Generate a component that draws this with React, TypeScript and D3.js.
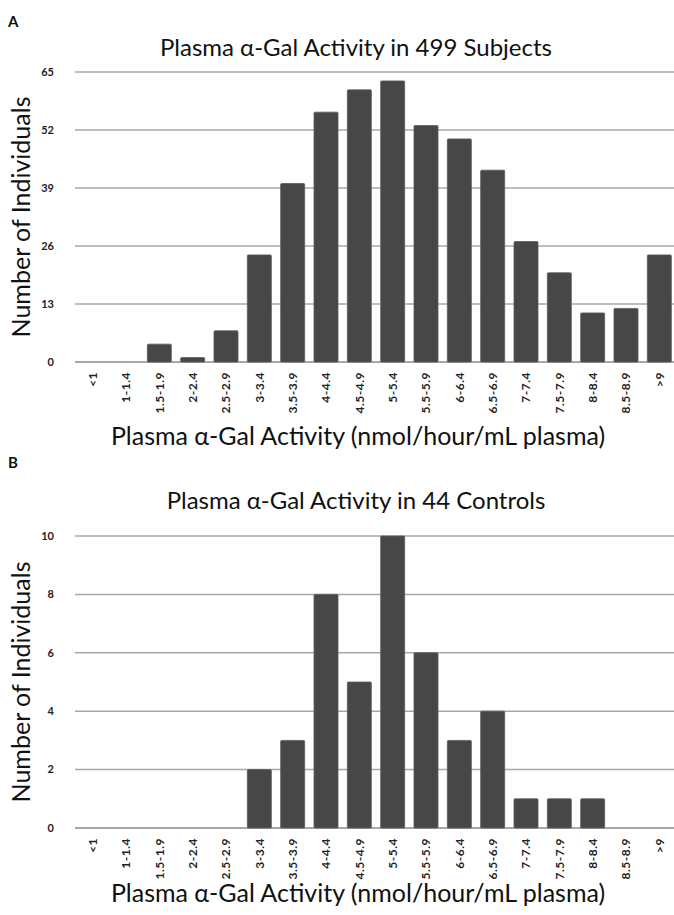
import React from "react";
import * as d3 from "d3";

const categories = ["<1", "1-1.4", "1.5-1.9", "2-2.4", "2.5-2.9", "3-3.4", "3.5-3.9", "4-4.4", "4.5-4.9", "5-5.4", "5.5-5.9", "6-6.4", "6.5-6.9", "7-7.4", "7.5-7.9", "8-8.4", "8.5-8.9", ">9"];
const subjects = [0, 0, 4, 1, 7, 24, 40, 56, 61, 63, 53, 50, 43, 27, 20, 11, 12, 24];
const controls = [0, 0, 0, 0, 0, 2, 3, 8, 5, 10, 6, 3, 4, 1, 1, 1, 0, 0];
const subjectTicks = [0, 13, 26, 39, 52, 65];
const controlTicks = [0, 2, 4, 6, 8, 10];

const FONT = "Lato, 'Open Sans', sans-serif";
const W = 674;
const H = 915;

type PanelProps = {
  letter: string;
  letterY: number;
  title: string;
  titleY: number;
  values: number[];
  ticks: number[];
  yTop: number;
  yBottom: number;
  xTitleY: number;
};

function Panel({ letter, letterY, title, titleY, values, ticks, yTop, yBottom, xTitleY }: PanelProps) {
  const x = d3.scaleBand<string>().domain(categories).range([76, 676]).paddingInner(0.28).paddingOuter(0.14);
  const y = d3.scaleLinear().domain([0, d3.max(ticks) as number]).range([yBottom, yTop]);
  const bw = x.bandwidth();
  return (
    <g>
      <text x={8} y={letterY} fontFamily={FONT} fontWeight={700} fontSize={15} fill="#111">{letter}</text>
      <text x={356} y={titleY} fontFamily={FONT} fontSize={24} fill="#111" textAnchor="middle">{title}</text>
      {ticks.map((t) => (
        <g key={t}>
          <line x1={75} x2={W} y1={y(t)} y2={y(t)} stroke={t === 0 ? "#8a8a8a" : "#a8a8a8"} strokeWidth={1.5} />
          <text x={54} y={y(t)} dy="0.35em" textAnchor="end" fontFamily={FONT} fontWeight={700} fontSize={11} fill="#222">{t}</text>
        </g>
      ))}
      {values.map((v, i) => (
        v > 0 ? (
          <rect key={categories[i]} x={x(categories[i])} y={y(v)} width={bw} height={y(0) - y(v)} fill="#474747" stroke="#5a5a5a" strokeWidth={0.8} rx={1} />
        ) : null
      ))}
      {categories.map((c) => {
        const cx = (x(c) as number) + bw / 2;
        const ty = yBottom + 10;
        return (
          <text key={c} transform={`translate(${cx},${ty}) rotate(-90)`} textAnchor="end" dy="0.35em" fontFamily={FONT} fontWeight={700} fontSize={12} letterSpacing={0.5} fill="#222">{c}</text>
        );
      })}
      <text transform={`translate(30,${(yTop + yBottom) / 2}) rotate(-90)`} textAnchor="middle" fontFamily={FONT} fontSize={25} fill="#111">Number of Individuals</text>
      <text x={358} y={xTitleY} textAnchor="middle" fontFamily={FONT} fontSize={25} fill="#111">Plasma α-Gal Activity (nmol/hour/mL plasma)</text>
    </g>
  );
}

export default function App() {
  return (
    <svg width={W} height={H} viewBox={`0 0 ${W} ${H}`} style={{ position: "absolute", left: 0, top: 0, background: "#fff" }}>
      <rect width={W} height={H} fill="#fff" />
      <Panel letter="A" letterY={27} title="Plasma α-Gal Activity in 499 Subjects" titleY={56} values={subjects} ticks={subjectTicks} yTop={72} yBottom={362} xTitleY={445} />
      <Panel letter="B" letterY={468} title="Plasma α-Gal Activity in 44 Controls" titleY={509} values={controls} ticks={controlTicks} yTop={536} yBottom={828} xTitleY={902} />
    </svg>
  );
}
